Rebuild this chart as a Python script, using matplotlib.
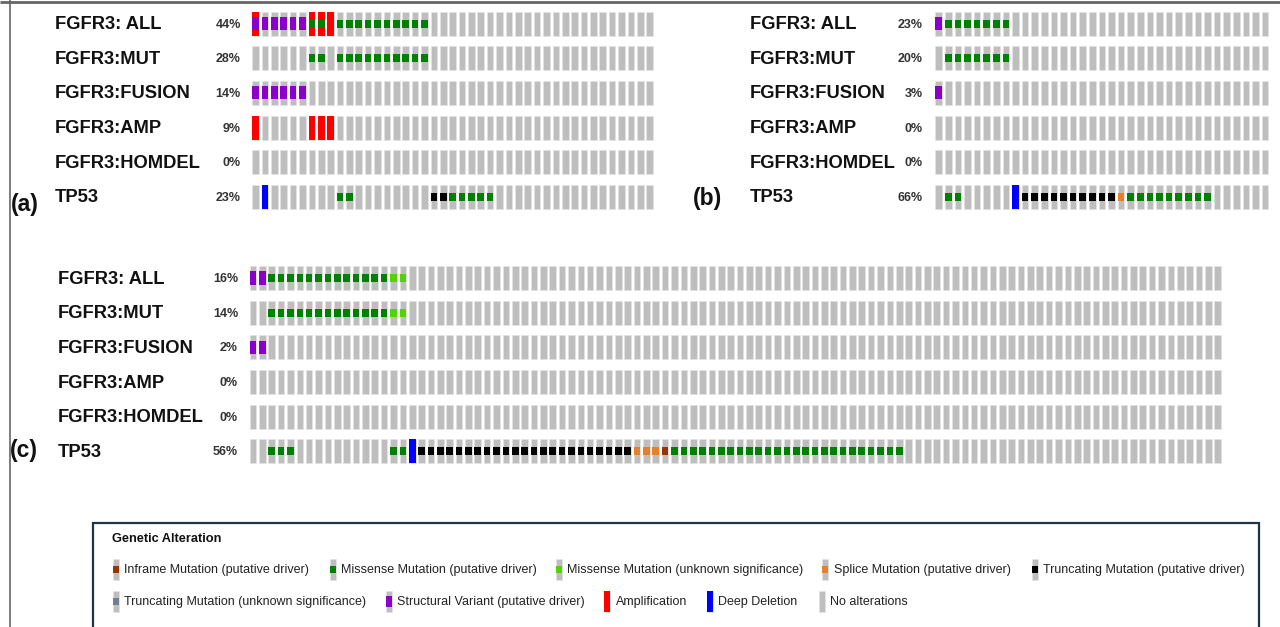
import matplotlib
matplotlib.use("Agg")
import matplotlib.pyplot as plt
from matplotlib.patches import Rectangle

plt.rcParams['font.family'] = ['Liberation Sans', 'DejaVu Sans']

# ---------------- data ----------------
track_names = ["FGFR3: ALL", "FGFR3:MUT", "FGFR3:FUSION", "FGFR3:AMP", "FGFR3:HOMDEL", "TP53"]

# run-length encoded alterations per track: (alteration, number of samples)
panel_a_tracks = [
    [("AMP+SV", 1), ("SV", 5), ("AMP+MIS", 2), ("AMP", 1), ("MIS", 10), ("", 24)],
    [("", 6), ("MIS", 2), ("", 1), ("MIS", 10), ("", 24)],
    [("SV", 6), ("", 37)],
    [("AMP", 1), ("", 5), ("AMP", 3), ("", 34)],
    [("", 43)],
    [("", 1), ("DEL", 1), ("", 7), ("MIS", 2), ("", 8), ("TRUNC", 2), ("MIS", 5), ("", 17)],
]
panel_a_pct = ["44%", "28%", "14%", "9%", "0%", "23%"]

panel_b_tracks = [
    [("SV", 1), ("MIS", 7), ("", 27)],
    [("", 1), ("MIS", 7), ("", 27)],
    [("SV", 1), ("", 34)],
    [("", 35)],
    [("", 35)],
    [("", 1), ("MIS", 2), ("", 5), ("DEL", 1), ("TRUNC", 10), ("SPLICE", 1), ("MIS", 9), ("", 6)],
]
panel_b_pct = ["23%", "20%", "3%", "0%", "0%", "66%"]

panel_c_tracks = [
    [("SV", 2), ("MIS", 13), ("MISU", 2), ("", 87)],
    [("", 2), ("MIS", 13), ("MISU", 2), ("", 87)],
    [("SV", 2), ("", 102)],
    [("", 104)],
    [("", 104)],
    [("", 2), ("MIS", 3), ("", 10), ("MIS", 2), ("DEL", 1), ("TRUNC", 23), ("SPLICE", 3),
     ("INFRAME", 1), ("MIS", 25), ("", 34)],
]
panel_c_pct = ["16%", "14%", "2%", "0%", "0%", "56%"]

legend_row1 = [("INFRAME", "Inframe Mutation (putative driver)"),
               ("MIS", "Missense Mutation (putative driver)"),
               ("MISU", "Missense Mutation (unknown significance)"),
               ("SPLICE", "Splice Mutation (putative driver)"),
               ("TRUNC", "Truncating Mutation (putative driver)")]
legend_row2 = [("TRUNCU", "Truncating Mutation (unknown significance)"),
               ("SV", "Structural Variant (putative driver)"),
               ("AMP", "Amplification"),
               ("DEL", "Deep Deletion"),
               ("", "No alterations")]

# ---------------- style ----------------
GREY = "#bebebe"
COLORS = {"MIS": "#008000", "MISU": "#53d400", "TRUNC": "#000000", "TRUNCU": "#708090",
          "SPLICE": "#e5802b", "INFRAME": "#993404", "SV": "#8b00c9",
          "AMP": "#ff0000", "DEL": "#0000ff"}
FULL = {"AMP", "DEL"}
MID = {"SV"}

W, H = 1280, 627
fig = plt.figure(figsize=(W / 100, H / 100), dpi=100)
ax = fig.add_axes([0, 0, 1, 1])
ax.set_xlim(0, W)
ax.set_ylim(H, 0)
ax.axis("off")

CELL_W = 6.6
CELL_H = 24.0


def draw_cell(x, y, code, h=CELL_H, w=CELL_W):
    ax.add_patch(Rectangle((x, y), w, h, facecolor=GREY, edgecolor="#e4e4e4", lw=0.4))
    if not code:
        return
    parts = code.split("+")
    order = sorted(parts, key=lambda p: 0 if p in FULL else (1 if p in MID else 2))
    for p in order:
        c = COLORS[p]
        if p in FULL:
            ax.add_patch(Rectangle((x, y), w, h, facecolor=c, edgecolor="none"))
        elif p in MID:
            hh = h * 0.55
            ax.add_patch(Rectangle((x, y + (h - hh) / 2), w, hh, facecolor=c, edgecolor="none"))
        else:
            hh = h / 3
            ax.add_patch(Rectangle((x, y + (h - hh) / 2), w, hh, facecolor=c, edgecolor="none"))


def draw_panel(tracks, pcts, x0, pitch, y0, ypitch, name_x, pct_x, tag, tag_x, tag_y):
    for r, (track, pct, name) in enumerate(zip(tracks, pcts, track_names)):
        y = y0 + r * ypitch
        col = 0
        for code, n in track:
            for _ in range(n):
                draw_cell(x0 + col * pitch, y, code)
                col += 1
        ax.text(name_x, y + CELL_H / 2 + 1, name, fontsize=13.2, fontweight="bold",
                ha="left", va="center", color="#111")
        ax.text(pct_x, y + CELL_H / 2 + 1, pct, fontsize=9, fontweight="bold",
                ha="right", va="center", color="#333")
    ax.text(tag_x, tag_y, tag, fontsize=16.5, fontweight="bold", ha="left", va="center", color="#111")


draw_panel(panel_a_tracks, panel_a_pct, 252.2, 9.386, 11.7, 34.6, 55, 241, "(a)", 11, 205)
draw_panel(panel_b_tracks, panel_b_pct, 935.4, 9.597, 11.7, 34.6, 750, 923, "(b)", 693, 198)
draw_panel(panel_c_tracks, panel_c_pct, 249.7, 9.366, 266.0, 34.67, 58, 238, "(c)", 10, 451)

# frame lines of the figure
ax.plot([0, W], [1.5, 1.5], color="#666666", lw=2, solid_capstyle="butt")
ax.plot([9.5, 9.5], [0, H], color="#666666", lw=1.2, solid_capstyle="butt")

# legend box
ax.add_patch(Rectangle((92.5, 523), 1166, 130, facecolor="white", edgecolor="#1c3444", lw=1.6))
ax.text(112, 539.5, "Genetic Alteration", fontsize=9.2, fontweight="bold", ha="left", va="center", color="#111")

leg1_x = [112.5, 329.5, 555.5, 822, 1031.5]
leg2_x = [112.5, 385.5, 604, 707, 819]
for items, xs, yc in ((legend_row1, leg1_x, 569.5), (legend_row2, leg2_x, 601.5)):
    for (code, label), x in zip(items, xs):
        draw_cell(x, yc - 10.5, code, h=21, w=6.0)
        ax.text(x + 11.5, yc + 0.5, label, fontsize=9.0, ha="left", va="center", color="#222")

fig.savefig("out.png", dpi=100)
